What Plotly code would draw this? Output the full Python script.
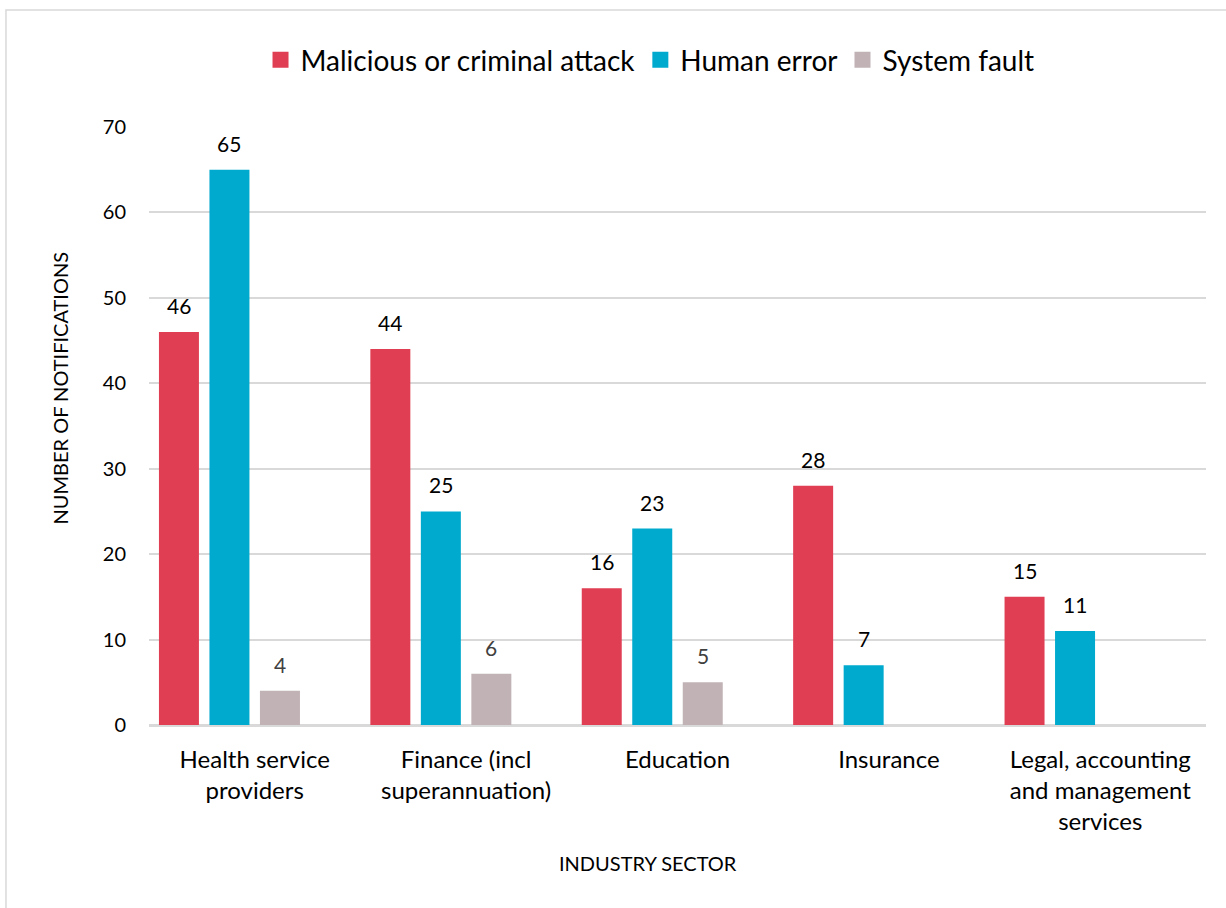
import plotly.graph_objects as go

# Notifications by industry sector and breach source
sectors = [
    "Health service<br>providers",
    "Finance (incl<br>superannuation)",
    "Education",
    "Insurance",
    "Legal, accounting<br>and management<br>services",
]
malicious = [46, 44, 16, 28, 15]
human_error = [65, 25, 23, 7, 11]
system_fault = [4, 6, 5, None, None]

series_names = ["Malicious or criminal attack", "Human error", "System fault"]
series_values = [malicious, human_error, system_fault]
series_colors = ["#E03E53", "#00AACE", "#C0B2B5"]
label_colors = ["#000000", "#000000", "#404040"]

y_ticks = [0, 10, 20, 30, 40, 50, 60, 70]

FONT = "Lato, 'Open Sans', sans-serif"

# four slots per category (last slot unused), bars narrower than their slot
slot = 0.2389
bar_w = 0.1892

fig = go.Figure()
annotations = []
x_idx = list(range(len(sectors)))

for k, (name, vals, col, lcol) in enumerate(zip(series_names, series_values, series_colors, label_colors)):
    off = (k - 2) * slot + (slot - bar_w) / 2
    fig.add_trace(go.Bar(
        x=x_idx, y=vals, name=name,
        marker=dict(color=col, line=dict(width=0)),
        width=bar_w, offset=off,
        showlegend=False,
        hoverinfo="y",
    ))
    # legend entry with a larger square swatch
    fig.add_trace(go.Scatter(
        x=[None], y=[None], mode="markers", name=name,
        marker=dict(symbol="square", size=18, color=col),
        showlegend=True,
    ))
    for i, v in enumerate(vals):
        if v is None:
            continue
        annotations.append(dict(
            x=i + off + bar_w / 2, y=v, xref="x", yref="y",
            text=str(v), showarrow=False, yanchor="bottom", yshift=12,
            font=dict(family=FONT, size=21, color=lcol),
        ))

annotations.append(dict(
    x=-0.0851, y=0.5627, xref="paper", yref="paper", text="NUMBER OF NOTIFICATIONS",
    textangle=-90, showarrow=False, xanchor="center", yanchor="middle",
    font=dict(family=FONT, size=20, color="#000000"),
))
annotations.append(dict(
    x=0.472, y=-0.2308, xref="paper", yref="paper", text="INDUSTRY SECTOR",
    showarrow=False, xanchor="center", yanchor="middle",
    font=dict(family=FONT, size=20, color="#000000"),
))

fig.update_layout(
    width=1226, height=908,
    margin=dict(l=149, r=20, t=127, b=183),
    paper_bgcolor="white", plot_bgcolor="white",
    font=dict(family=FONT, color="#000000"),
    barmode="group",
    legend=dict(
        orientation="h", x=0.474, xanchor="center", y=1.112, yanchor="middle",
        font=dict(family=FONT, size=28, color="#000000"),
        itemsizing="trace", itemwidth=30, tracegroupgap=0,
    ),
    annotations=annotations,
    shapes=[dict(
        type="rect", xref="paper", yref="paper",
        x0=-0.1353, x1=1.2, y0=-0.5, y1=1.1957,
        line=dict(color="#D9D9D9", width=1.5), fillcolor="rgba(0,0,0,0)", layer="below",
    )],
)

fig.update_xaxes(
    range=[-0.5, len(sectors) - 0.5],
    tickmode="array", tickvals=x_idx, ticktext=sectors,
    tickfont=dict(family=FONT, size=24, color="#000000"),
    ticks="outside", ticklen=12, tickcolor="rgba(0,0,0,0)",
    showgrid=False, showline=True, linecolor="#D9D9D9", linewidth=1.5,
    zeroline=False, fixedrange=True,
)
fig.update_yaxes(
    range=[0, 70], tickmode="array", tickvals=y_ticks,
    tickfont=dict(family=FONT, size=20, color="#000000"),
    ticks="outside", ticklen=18, tickcolor="rgba(0,0,0,0)",
    showgrid=True, gridcolor="#D9D9D9", gridwidth=1.5,
    zeroline=True, zerolinecolor="#D9D9D9", zerolinewidth=1.5,
    showline=False, fixedrange=True,
)

fig.write_html("out.html")
